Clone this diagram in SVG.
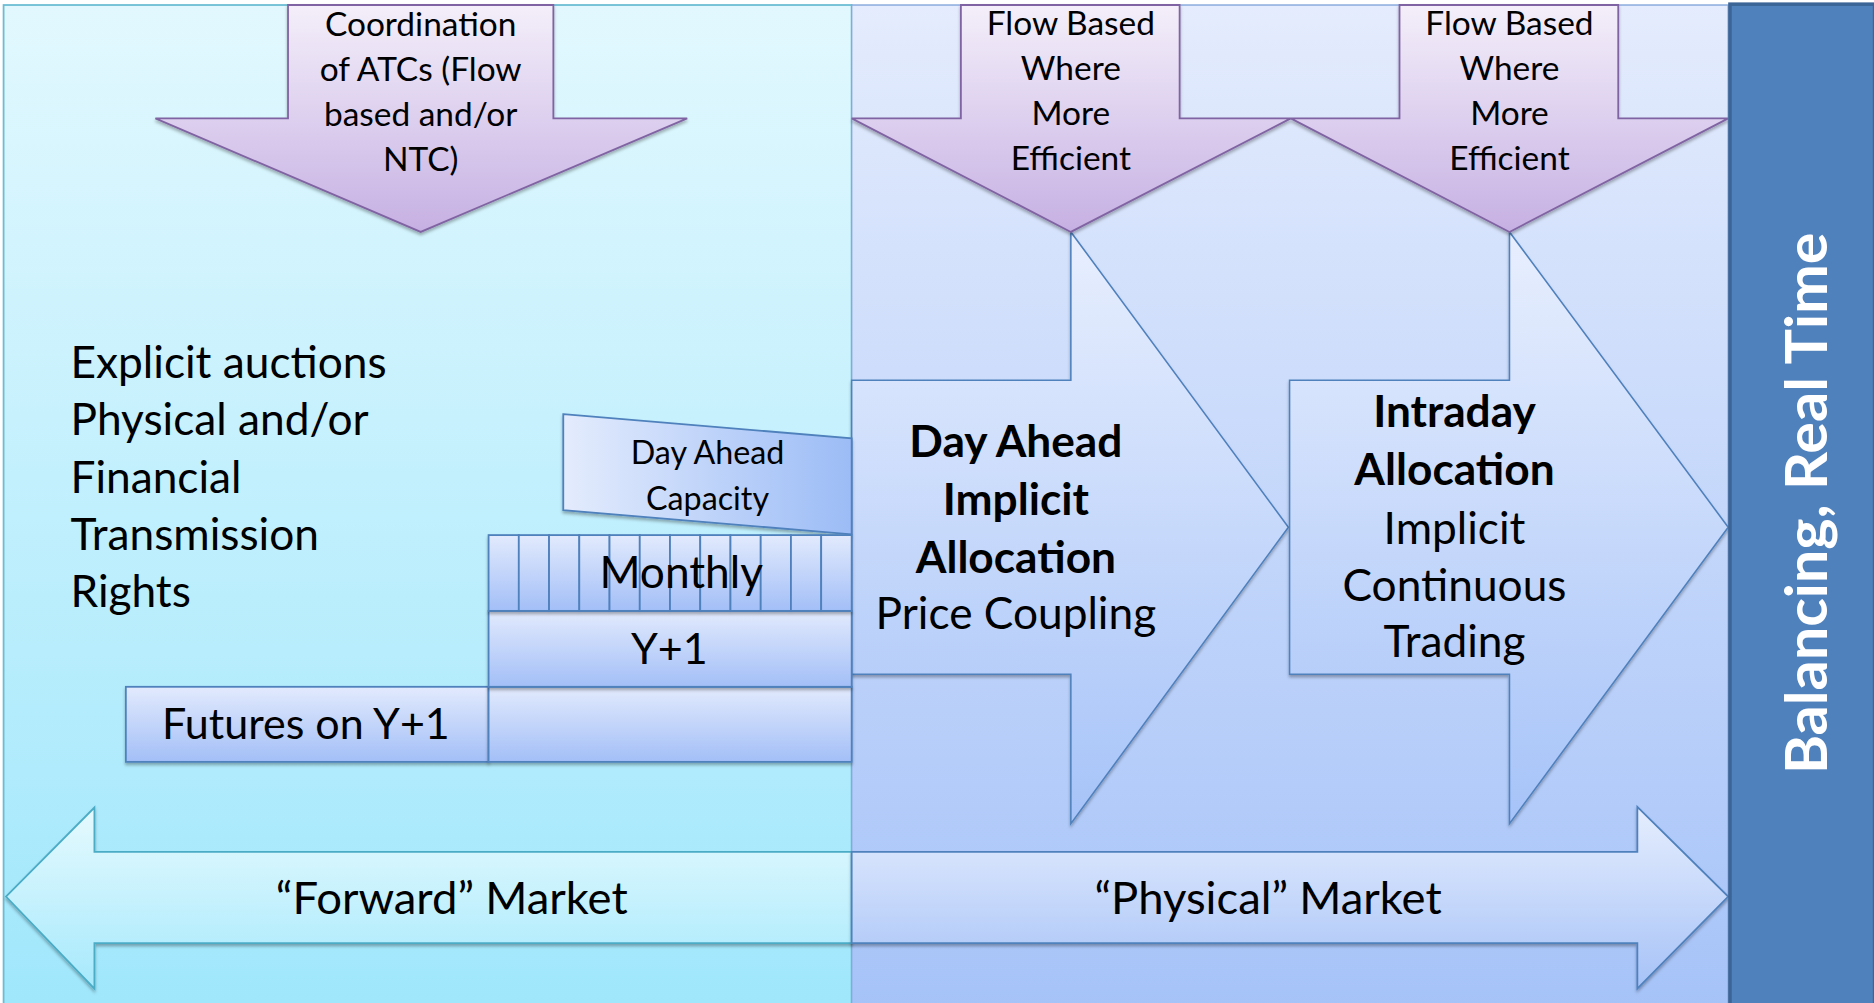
<svg xmlns="http://www.w3.org/2000/svg" width="1874" height="1003" viewBox="0 0 1874 1003">
<defs>
<linearGradient id="gLeft" x1="0" y1="0" x2="0" y2="1"><stop offset="0" stop-color="#e2f8fe"/><stop offset="1" stop-color="#a0e7fc"/></linearGradient>
<linearGradient id="gMid" x1="0" y1="0" x2="0" y2="1"><stop offset="0" stop-color="#e4ecfd"/><stop offset="1" stop-color="#a6c3f8"/></linearGradient>
<linearGradient id="gPurple" x1="0" y1="0" x2="0" y2="1"><stop offset="0" stop-color="#f4effa"/><stop offset="1" stop-color="#c6b0e3"/></linearGradient>
<linearGradient id="gBlue" x1="0" y1="0" x2="0" y2="1"><stop offset="0" stop-color="#e2eafd"/><stop offset="1" stop-color="#a3bff7"/></linearGradient>
<linearGradient id="gBlueH" x1="0" y1="0" x2="1" y2="0"><stop offset="0" stop-color="#e4ecfd"/><stop offset="1" stop-color="#9cbcf6"/></linearGradient>
<linearGradient id="gBig" x1="0" y1="0" x2="0" y2="1"><stop offset="0" stop-color="#e8effe"/><stop offset="1" stop-color="#a6c3f8"/></linearGradient>
<linearGradient id="gFwd" x1="0" y1="0" x2="0" y2="1"><stop offset="0" stop-color="#e6fafe"/><stop offset="1" stop-color="#a6e9fc"/></linearGradient>
<linearGradient id="gPhys" x1="0" y1="0" x2="0" y2="1"><stop offset="0" stop-color="#e6eefe"/><stop offset="1" stop-color="#a6c2f7"/></linearGradient>
<filter id="sh" x="-10%" y="-10%" width="120%" height="130%"><feDropShadow dx="0" dy="2" stdDeviation="1.5" flood-color="#000" flood-opacity="0.3"/></filter>
<style>
text{font-family:Lato,"Open Sans","Liberation Sans",sans-serif;fill:#000}
.c{text-anchor:middle}
.b{font-weight:bold}
.s28{font-size:28px}
.s37{font-size:37px}
.s27{font-size:27px}
.s36{font-size:36px}
.s38{font-size:38px}
.blue{fill:url(#gBlue);stroke:#4f81bd;stroke-width:1.5}
.purple{fill:url(#gPurple);stroke:#8064a2;stroke-width:1.5}
.big{fill:url(#gBig);stroke:#4f81bd;stroke-width:1.3}
</style>
</defs>
<rect width="1874" height="1003" fill="#ffffff"/>
<g transform="scale(1.19515,1.19547)">
<g id="forward-panel"><rect x="3" y="4.2" width="709.6" height="836" fill="url(#gLeft)" stroke="#6cbdd3" stroke-width="1.5"/></g>
<g id="physical-panel"><rect x="712.6" y="4.2" width="733.4" height="836" fill="url(#gMid)" stroke="#86a8dc" stroke-width="1.2"/></g>

<g id="day-ahead-allocation">
<path class="big" filter="url(#sh)" d="M712.6,318 H896 V194 L1078,441 L896,689 V564 H712.6 Z"/>
<text class="c b s37" x="850" y="382.6">Day Ahead</text>
<text class="c b s37" x="850" y="430.5">Implicit</text>
<text class="c b s37" x="850" y="479">Allocation</text>
<text class="c s37" x="850" y="526.5">Price Coupling</text>
</g>
<g id="intraday-allocation">
<path class="big" filter="url(#sh)" d="M1079,318 H1263 V194 L1446,441 L1263,689 V564 H1079 Z"/>
<text class="c b s37" x="1217" y="357.5">Intraday</text>
<text class="c b s37" x="1217" y="405.7">Allocation</text>
<text class="c s37" x="1217" y="455">Implicit</text>
<text class="c s37" x="1217" y="502.5">Continuous</text>
<text class="c s37" x="1217" y="550">Trading</text>
</g>

<g id="coordination-atc">
<path class="purple" filter="url(#sh)" d="M241,4.2 H463 V99 H575 L352,194 L130,99 H241 Z"/>
<text class="c s28" x="352" y="30">Coordination</text>
<text class="c s28" x="352" y="67.8">of ATCs (Flow</text>
<text class="c s28" x="352" y="105.4">based and/or</text>
<text class="c s28" x="352" y="142.8">NTC)</text>
</g>
<g id="flow-based-1">
<path class="purple" filter="url(#sh)" d="M804,4.2 H987 V99 H1080 L896,194 L712.6,99 H804 Z"/>
<text class="c s28" x="896" y="29.5">Flow Based</text>
<text class="c s28" x="896" y="67.2">Where</text>
<text class="c s28" x="896" y="104.8">More</text>
<text class="c s28" x="896" y="142.3">Efficient</text>
</g>
<g id="flow-based-2">
<path class="purple" filter="url(#sh)" d="M1171,4.2 H1354 V99 H1446 L1263,194 L1080,99 H1171 Z"/>
<text class="c s28" x="1263" y="29.5">Flow Based</text>
<text class="c s28" x="1263" y="67.2">Where</text>
<text class="c s28" x="1263" y="104.8">More</text>
<text class="c s28" x="1263" y="142.3">Efficient</text>
</g>

<g id="explicit-auctions">
<text class="s37" x="59" y="316">Explicit auctions</text>
<text class="s37" x="59" y="364">Physical and/or</text>
<text class="s37" x="59" y="412">Financial</text>
<text class="s37" x="59" y="460">Transmission</text>
<text class="s37" x="59" y="508">Rights</text>
</g>

<g id="day-ahead-capacity">
<path d="M471.3,346.4 L712.6,366.7 V447 L471.3,426.7 Z" fill="url(#gBlueH)" stroke="#4f81bd" stroke-width="1.5" filter="url(#sh)"/>
<text class="c s27" x="592" y="388.5">Day Ahead</text>
<text class="c s27" x="592" y="426.5">Capacity</text>
</g>
<g id="futures-y1">
<rect class="blue" filter="url(#sh)" x="105.3" y="574.5" width="303.5" height="62.8"/>
<text class="c s36" x="256" y="618.3">Futures on Y+1</text>
</g>
<g id="y1-extension">
<rect class="blue" filter="url(#sh)" x="408.8" y="574.5" width="303.8" height="62.8"/>
</g>
<g id="y1">
<rect class="blue" filter="url(#sh)" x="408.8" y="511" width="303.8" height="63.5"/>
<text class="c s36" x="560" y="555.8">Y+1</text>
</g>
<g id="monthly">
<g filter="url(#sh)">
<rect class="blue" x="408.8" y="447.6" width="25.3" height="63.4"/>
<rect class="blue" x="434.1" y="447.6" width="25.3" height="63.4"/>
<rect class="blue" x="459.4" y="447.6" width="25.3" height="63.4"/>
<rect class="blue" x="484.7" y="447.6" width="25.3" height="63.4"/>
<rect class="blue" x="510" y="447.6" width="25.3" height="63.4"/>
<rect class="blue" x="535.3" y="447.6" width="25.3" height="63.4"/>
<rect class="blue" x="560.6" y="447.6" width="25.3" height="63.4"/>
<rect class="blue" x="585.9" y="447.6" width="25.3" height="63.4"/>
<rect class="blue" x="611.2" y="447.6" width="25.3" height="63.4"/>
<rect class="blue" x="636.5" y="447.6" width="25.3" height="63.4"/>
<rect class="blue" x="661.8" y="447.6" width="25.3" height="63.4"/>
<rect class="blue" x="687.1" y="447.6" width="25.5" height="63.4"/>
</g>
<text class="c s37" x="570" y="491.7">Monthly</text>
</g>

<g id="forward-market">
<path d="M5,750 L79,675.5 V712.6 H712.6 V789 H79 V827 Z" fill="url(#gFwd)" stroke="#4bacc6" stroke-width="1.5" filter="url(#sh)"/>
<text class="c s38" x="378" y="764.2">“Forward” Market</text>
</g>
<g id="physical-market">
<path d="M712.6,712.6 H1370 V675 L1446,750 L1370,827 V789 H712.6 Z" fill="url(#gPhys)" stroke="#4f81bd" stroke-width="1.5" filter="url(#sh)"/>
<text class="c s38" x="1061" y="764.2">“Physical” Market</text>
</g>

<g id="balancing-real-time">
<rect x="1447.5" y="3.5" width="121" height="837" fill="#4f81bd" stroke="#3c6597" stroke-width="3"/>
<text class="c b" transform="translate(1528.4,421) rotate(-90)" x="0" y="0" style="font-size:48px;fill:#ffffff" textLength="453" lengthAdjust="spacingAndGlyphs">Balancing, Real Time</text>
</g>
<g id="connectors"/>
</g>
</svg>
